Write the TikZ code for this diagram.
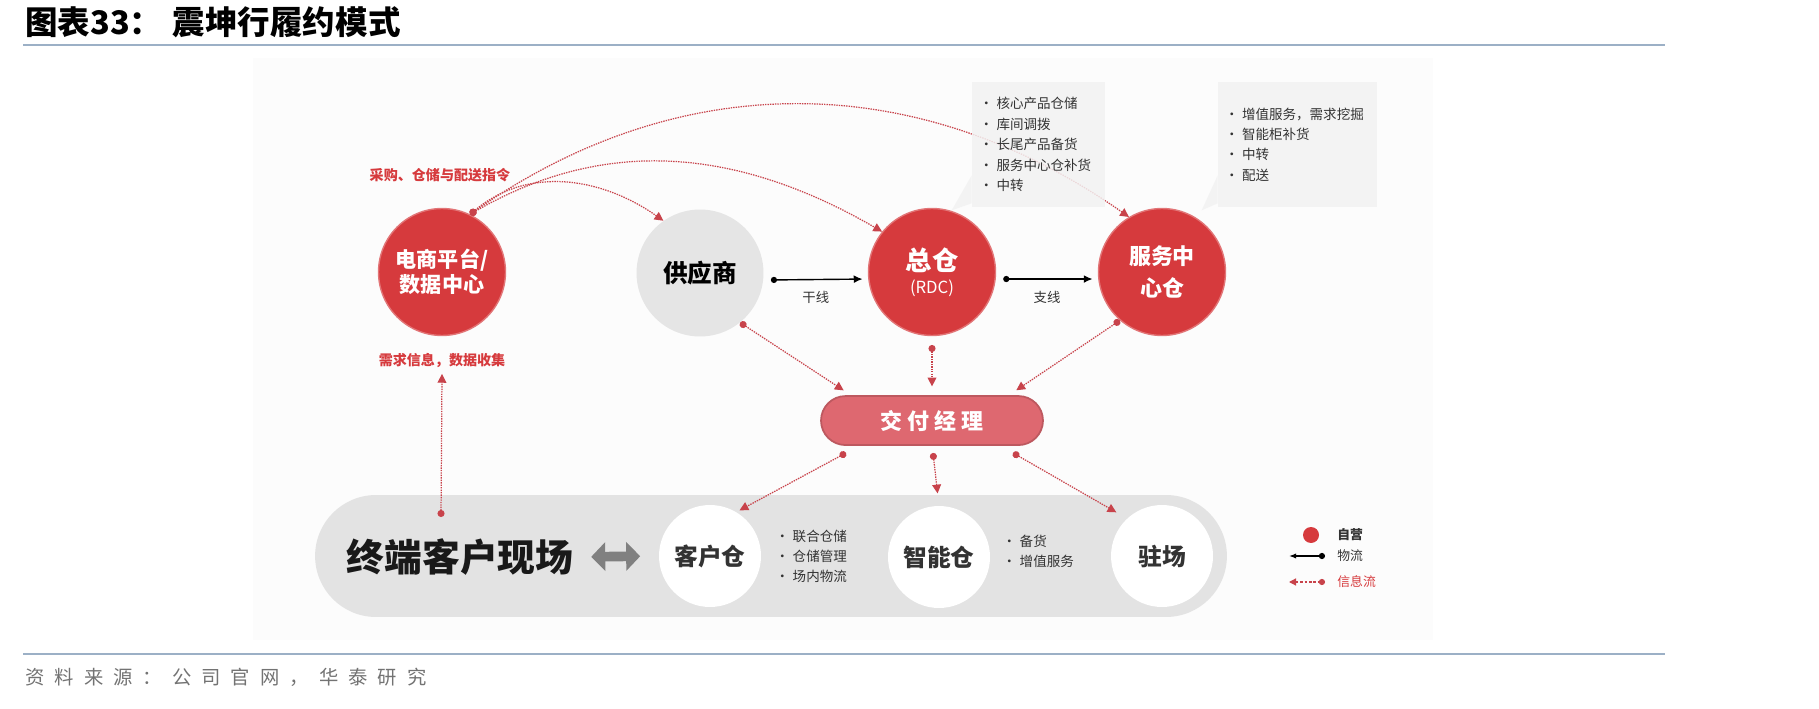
\documentclass[tikz,border=0pt]{standalone}
\usepackage{fontspec}
\setmainfont{Noto Sans CJK SC}
\usetikzlibrary{arrows.meta, positioning, calc}
\definecolor{zkred}{HTML}{D63A3D}
\definecolor{zkline}{HTML}{C8434B}
\definecolor{zkpink}{HTML}{DE6870}
\definecolor{zkgray}{HTML}{E5E5E5}
\definecolor{zkband}{HTML}{E3E3E3}
\definecolor{zkbox}{HTML}{F2F2F2}
\definecolor{zkrule}{HTML}{9CB0C6}
\definecolor{zkdark}{HTML}{333333}
\definecolor{zkpanel}{HTML}{FCFCFC}
\newcommand{\pt}{·\hspace{2pt}}

\begin{document}
\begin{tikzpicture}[
    x=0.02cm, y=-0.02cm,
    hub/.style={circle, minimum size=2.54cm, inner sep=0pt, align=center},
    own/.style={hub, fill=zkred, draw=zkred!70!white, line width=0.8pt,
      text=white, font=\bfseries\fontsize{12}{14.2}\selectfont},
    partner/.style={hub, fill=zkgray, text=black,
      font=\bfseries\fontsize{14}{16}\selectfont},
    site/.style={circle, minimum size=2.04cm, inner sep=0pt, fill=white,
      text=zkdark, font=\bfseries\fontsize{13.5}{15}\selectfont},
    list/.style={align=left, inner sep=0pt, anchor=west, text=zkdark,
      font=\fontsize{7.7}{11.3}\selectfont},
    callout/.style={rectangle, fill=zkbox, fill opacity=0.85, text opacity=1,
      align=left, inner ysep=0pt, minimum height=2.5cm, text=zkdark,
      font=\fontsize{7.7}{11.6}\selectfont},
    flow/.style={{Circle[length=3.5pt]}-{Latex[length=5pt,width=4.5pt]},
      line width=0.8pt, black},
    info/.style={{Circle[length=4pt]}-{Triangle[length=5pt,width=5pt]},
      draw=zkline, line width=0.7pt, dash pattern=on 0.8pt off 0.6pt},
    redlbl/.style={text=zkred, font=\bfseries\fontsize{8}{10}\selectfont},
    lbl/.style={text=zkdark, font=\fontsize{7.6}{9}\selectfont},
    legtxt/.style={anchor=west, inner sep=0pt, text=zkdark,
      font=\fontsize{7.3}{9}\selectfont}
  ]
  \useasboundingbox (0,0) rectangle (1819,709);

  % page header / footer
  \node[anchor=west, inner sep=0pt, font=\bfseries\fontsize{18.5}{20}\selectfont]
    (title) at (25,22) {图表33：\hspace{6pt}震坤行履约模式};
  \draw[zkrule, line width=1.2pt] (23,45) -- (1665,45);
  \draw[zkrule, line width=1.2pt] (23,654) -- (1665,654);
  \node[anchor=west, inner sep=0pt, text=black!55,
    font=\addfontfeature{LetterSpace=52}\fontsize{11}{12}\selectfont]
    (src) at (25,677) {资料来源：公司官网，华泰研究};

  \fill[zkpanel] (253,58) rectangle (1433,640);

  % top row
  \node[own] (dc) at (442,272) {电商平台/\\数据中心};
  \node[partner] (gys) at (700,273) {供应商};
  \node[own, font=\bfseries\fontsize{15}{13}\selectfont] (zc) at (932,272)
    {总仓\\{\mdseries\fontsize{9.5}{11}\selectfont (RDC)}};
  \node[own, font=\bfseries\fontsize{12.5}{18.5}\selectfont] (fw) at (1162,272)
    {服务中\\心仓};

  \draw[flow, shorten <=4pt, shorten >=3pt] ([yshift=-4pt]gys.east) -- ([yshift=-4pt]zc.west)
    node[midway, below=3pt, lbl] {干线};
  \draw[flow, shorten <=4pt, shorten >=3pt] ([yshift=-4pt]zc.east) -- ([yshift=-4pt]fw.west)
    node[midway, below=3pt, lbl] {支线};

  \node[redlbl] (order) at (440,175) {采购、仓储与配送指令};
  \node[redlbl, below=0.22cm of dc] (demand) {需求信息，数据收集};

  % instructions from the platform
  \draw[info] (dc.64) to[out=40, in=145] (gys.125);
  \draw[info] (dc.64) to[out=30, in=150] (zc.141);
  \draw[info] (dc.64) to[out=35, in=145] (fw.121);

  % notes beside the warehouses
  \node[callout, minimum width=2.66cm, text width=2.36cm, inner xsep=0.15cm]
    (zcnote) at (1038.5,144.5)
    {\pt 核心产品仓储\\\pt 库间调拨\\\pt 长尾产品备货\\\pt 服务中心仓补货\\\pt 中转};
  \fill[zkbox, fill opacity=0.85] (zcnote.south west) ++(0,-32) -- ++(0,28) -- ++(-20,7) -- cycle;
  \node[callout, minimum width=3.18cm, text width=2.9cm, inner xsep=0.14cm]
    (fwnote) at (1297.5,144.5)
    {\pt 增值服务，需求挖掘\\\pt 智能柜补货\\\pt 中转\\\pt 配送};
  \fill[zkbox, fill opacity=0.85] (fwnote.south west) ++(0,-32) -- ++(0,28) -- ++(-16,7) -- cycle;

  % delivery manager
  \node[rectangle, rounded corners=0.49cm, minimum width=4.44cm, minimum height=0.98cm,
    fill=zkpink, draw=zkpink!85!black, line width=1pt, text=white,
    font=\bfseries\fontsize{12.5}{14}\selectfont, below=1.18cm of zc] (jf)
    {交\hspace{3pt}付\hspace{3pt}经\hspace{3pt}理};

  \draw[info, shorten >=5pt] (gys.-51) -- ($(jf.north)+(-81,0)$);
  \draw[info, shorten >=5pt] ([yshift=-5pt]zc.south) -- (jf.north);
  \draw[info, shorten >=5pt] (fw.-131) -- ($(jf.north)+(77,0)$);

  % customer site band
  \node[rectangle, rounded corners=1.22cm, minimum width=18.24cm, minimum height=2.44cm,
    fill=zkband] (field) at (771,556) {};
  \node[inner sep=0pt, text=black!90, font=\bfseries\fontsize{21.5}{24}\selectfont]
    (endcust) at (460,557) {终端客户现场};
  \node[site] (kc) at (710,556) {客户仓};
  \node[site] (znc) at (939,557) {智能仓};
  \node[site] (zhc) at (1162,556) {驻场};
  \node[list, right=0.28cm of kc] (kclist) {\pt 联合仓储\\\pt 仓储管理\\\pt 场内物流};
  \node[list, right=0.24cm of znc, yshift=3pt] (znclist) {\pt 备货\\\pt 增值服务};

  \draw[{Triangle[length=8pt,width=16pt]}-{Triangle[length=8pt,width=16pt]},
    line width=5.5pt, black!50, shorten <=10pt, shorten >=10.5pt] (endcust.east) -- (kc.west);

  \draw[info, shorten >=2pt] ($(jf.south)+(-86,7)$) -- (kc.59);
  \draw[info, shorten >=7pt] ($(jf.south)+(1,7)$) -- (znc.north);
  \draw[info, shorten >=7pt] ($(jf.south)+(81,7)$) -- (zhc.133);

  \coordinate (fieldin) at (441,517);
  \draw[info] (fieldin) -- (demand.south);

  % legend
  \node[circle, fill=zkred, minimum size=0.32cm, inner sep=0pt] (lgown) at (1311,535) {};
  \node[legtxt, font=\bfseries\fontsize{7.3}{9}\selectfont] at (1337,535) {自营};
  \coordinate (lgf1) at (1289,556);
  \coordinate (lgf2) at (1325,556);
  \draw[{Latex[length=4pt]}-{Circle[length=3.5pt]}, line width=0.8pt] (lgf1) -- (lgf2);
  \node[legtxt] at (1337,556) {物流};
  \coordinate (lgi1) at (1289,582);
  \coordinate (lgi2) at (1325,582);
  \draw[{Triangle[length=4pt,width=4pt]}-{Circle[length=3.5pt]}, zkline, line width=0.7pt,
    dash pattern=on 1.5pt off 1pt] (lgi1) -- (lgi2);
  \node[legtxt, text=zkred] at (1337,582) {信息流};
\end{tikzpicture}
\end{document}
